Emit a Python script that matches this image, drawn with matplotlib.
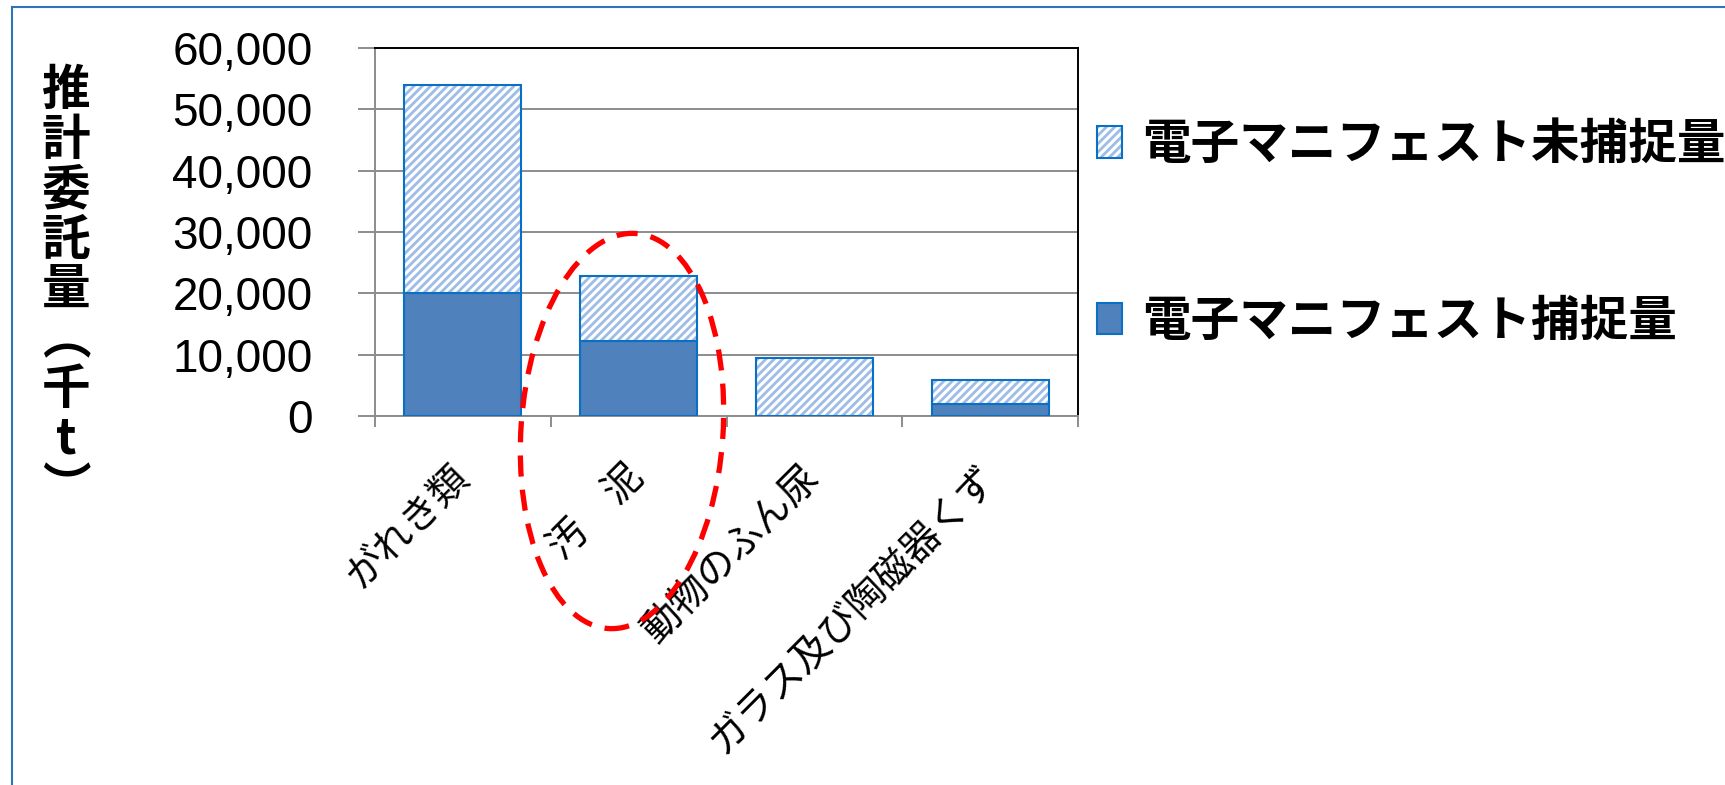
import matplotlib
matplotlib.use('Agg')
import matplotlib.pyplot as plt
from matplotlib.patches import Patch, Ellipse
from matplotlib.lines import Line2D
from matplotlib.ticker import FuncFormatter, MultipleLocator
from matplotlib.legend_handler import HandlerTuple

plt.rcParams['font.family'] = ['Noto Sans CJK JP', 'DejaVu Sans']
plt.rcParams['hatch.linewidth'] = 2.0

# data (thousand t)
categories = ['がれき類', '汚\u3000泥', '動物のふん尿', 'ガラス及び陶磁器くず']
captured = [20000, 12200, 0, 2000]
uncaptured = [34000, 10600, 9500, 3900]
series_labels = ['電子マニフェスト未捕捉量', '電子マニフェスト捕捉量']
ylabel = '推計委託量︵千t︶'

solid_c = '#4F81BD'
edge_c = '#0A70C4'
hatch_c = '#9DBDE6'
grid_c = '#8C8C8C'

fig = plt.figure(figsize=(17.25, 7.85), dpi=100)
ax = fig.add_axes([375/1725, 1 - 416/785, 703/1725, 368/785])

x = list(range(len(categories)))
w = 0.667
ax.bar(x, captured, w, color=solid_c, edgecolor=edge_c, linewidth=1.5, zorder=3)
ax.bar(x, uncaptured, w, bottom=captured, color='white', edgecolor=hatch_c,
       hatch='////', linewidth=0, zorder=3)
ax.bar(x, uncaptured, w, bottom=captured, fill=False, edgecolor=edge_c,
       linewidth=1.5, zorder=4)

ax.set_xlim(-0.5, 3.5)
ax.set_ylim(0, 60000)
ax.yaxis.set_major_locator(MultipleLocator(10000))
ax.yaxis.set_major_formatter(FuncFormatter(lambda v, p: f'{int(v):,}'))
ax.grid(axis='y', color=grid_c, linewidth=1.4, zorder=0)
ax.set_axisbelow(True)

for s in ['left', 'bottom']:
    ax.spines[s].set_color(grid_c)
    ax.spines[s].set_linewidth(1.4)
for s in ['top', 'right']:
    ax.spines[s].set_color('black')
    ax.spines[s].set_linewidth(1.4)

ax.tick_params(axis='y', length=12, width=1.4, color=grid_c, pad=33,
               labelsize=33)
for t in ax.get_yticklabels():
    t.set_fontfamily('Liberation Sans')

ax.set_xticks(x)
ax.set_xticklabels(categories, rotation=45, ha='right', va='center',
                   rotation_mode='anchor', fontsize=28)
ax.tick_params(axis='x', which='major', length=0, pad=40)
ax.set_xticks([-0.5, 0.5, 1.5, 2.5, 3.5], minor=True)
ax.tick_params(axis='x', which='minor', length=8, width=1.4, color=grid_c)

fig.text(66/1725, 1 - 290/785, '\n'.join(ylabel), ha='center', va='center',
         fontsize=35, fontweight='bold', linespacing=1.02)

h_unc = (Patch(facecolor='white', edgecolor=hatch_c, hatch='////', linewidth=0),
         Patch(fill=False, edgecolor=edge_c, linewidth=1.5))
h_cap = Patch(facecolor=solid_c, edgecolor=edge_c, linewidth=1.5)
fig.legend([h_unc, h_cap], series_labels, loc='upper left',
           bbox_to_anchor=(1097/1725, 1 - 120/785), frameon=False,
           prop={'size': 35, 'weight': 'bold'}, handlelength=0.52,
           handleheight=0.62, handletextpad=0.4, labelspacing=2.62,
           borderpad=0, borderaxespad=0,
           handler_map={tuple: HandlerTuple(ndivide=1)})

# red dashed ellipse around 汚泥
ell = Ellipse((6.22, 7.85 - 4.31), 2.02, 3.96, angle=-4, fill=False,
              edgecolor='#FF0000', linewidth=3.8, linestyle=(0, (4, 2.5)),
              transform=fig.dpi_scale_trans, clip_on=False, zorder=10)
fig.add_artist(ell)

# outer blue frame
fig.add_artist(Line2D([11.5/1725, 11.5/1725], [0, 1 - 7/785],
                      color='#2E75B6', linewidth=1.5, transform=fig.transFigure))
fig.add_artist(Line2D([11.5/1725, 1], [1 - 7/785, 1 - 7/785],
                      color='#2E75B6', linewidth=1.5, transform=fig.transFigure))

fig.savefig('out.png', dpi=100)
